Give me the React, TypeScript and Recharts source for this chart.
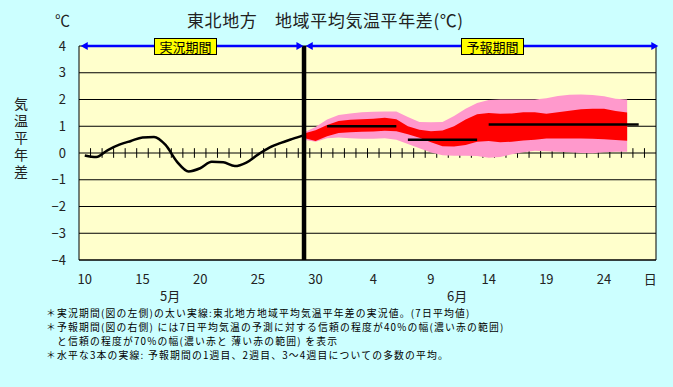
import React from "react";
import {
  ComposedChart,
  Area,
  Line,
  XAxis,
  YAxis,
  CartesianGrid,
  ReferenceLine,
} from "recharts";

const BG = "#ccffff";
const PLOT_BG = "#ffffcc";
const PINK = "#ff99cc";
const RED = "#ff0000";
const BLUE = "#0000ff";
const FONT = '"Noto Sans CJK JP", "Noto Sans", sans-serif';

// day index: 0 = 5/10 ... 49 = 6/28
const TICK_DAYS = [0, 5, 10, 15, 20, 25, 30, 35, 40, 45, 49];
const TICK_LABELS = ["10", "15", "20", "25", "30", "4", "9", "14", "19", "24", "日"];
const Y_TICKS = [-4, -3, -2, -1, 0, 1, 2, 3, 4];
const DAY_COUNT = 50;

// observed 7-day mean anomaly, 5/10 - 5/29
const OBS_VALUES = [
  -0.09, -0.15, 0.11, 0.31, 0.45, 0.58, 0.6, 0.3, -0.33, -0.69,
  -0.57, -0.33, -0.35, -0.49, -0.36, -0.06, 0.2, 0.38, 0.53, 0.67,
];

// forecast bands, 5/29 - 6/26
const FC_START = 19;
const PINK_HIGH = [
  0.78, 0.97, 1.25, 1.42, 1.48, 1.52, 1.54, 1.55, 1.55, 1.35,
  1.16, 1.15, 1.16, 1.38, 1.65, 1.87, 1.98, 2.0, 2.0, 2.0,
  2.0, 2.05, 2.13, 2.18, 2.19, 2.17, 2.12, 2.03, 2.0,
];
const RED_HIGH = [
  0.73, 0.85, 1.05, 1.2, 1.24, 1.26, 1.28, 1.32, 1.26, 1.0,
  0.87, 0.81, 0.84, 1.0, 1.25, 1.45, 1.5, 1.47, 1.48, 1.52,
  1.52, 1.47, 1.52, 1.58, 1.64, 1.65, 1.65, 1.57, 1.51,
];
const RED_LOW = [
  0.56, 0.45, 0.63, 0.75, 0.78, 0.79, 0.8, 0.83, 0.81, 0.7,
  0.57, 0.4, 0.25, 0.24, 0.3, 0.42, 0.45, 0.4, 0.42, 0.47,
  0.5, 0.54, 0.54, 0.54, 0.54, 0.53, 0.51, 0.49, 0.46,
];
const PINK_LOW = [
  0.5, 0.42, 0.55, 0.58, 0.55, 0.53, 0.53, 0.55, 0.5, 0.34,
  0.18, 0.02, -0.08, -0.1, -0.1, -0.11, -0.18, -0.15, -0.05, 0.03,
  0.08, 0.07, 0.05, 0.03, 0.0, -0.01, 0.03, 0.05, 0.05,
];

// ensemble mean: week 1, week 2, weeks 3-4
const WEEK_FROM = [21, 28, 35];
const WEEK_TO = [27, 34, 48];
const WEEK_MEAN = [1.0, 0.5, 1.07];

const SPLIT_DAY = 19;
const PERIOD_FROM = [-0.35, 19.15];
const PERIOD_TO = [18.95, 49.7];

const NOTES = [
  "＊実況期間(図の左側)の太い実線:東北地方地域平均気温平年差の実況値。(7日平均値)",
  "＊予報期間(図の右側) には7日平均気温の予測に対する信頼の程度が40%の幅(濃い赤の範囲)",
  "　と信頼の程度が70%の幅(濃い赤と 薄い赤の範囲) を表示",
  "＊水平な3本の実線: 予報期間の1週目、2週目、3～4週目についての多数の平均。",
];

const obsData = OBS_VALUES.map((v, i) => ({ x: i, v }));
const bandData = PINK_HIGH.map((_, i) => ({
  x: FC_START + i,
  pink: [PINK_LOW[i], PINK_HIGH[i]],
  red: [RED_LOW[i], RED_HIGH[i]],
}));
const boundaries = Array.from({ length: DAY_COUNT - 1 }, (_, i) => i + 0.5);

function Arrow(props: any) {
  const { x1, y1, x2, y2 } = props;
  const len = 7;
  const half = 4;
  return (
    <g>
      <line x1={x1 + 3} y1={y1} x2={x2 - 3} y2={y2} stroke={BLUE} strokeWidth={2.6} />
      <polygon points={`${x1},${y1} ${x1 + len},${y1 - half} ${x1 + len},${y1 + half}`} fill={BLUE} />
      <polygon points={`${x2},${y2} ${x2 - len},${y2 - half} ${x2 - len},${y2 + half}`} fill={BLUE} />
    </g>
  );
}

const boxStyle: React.CSSProperties = {
  position: "absolute",
  top: 38,
  width: 61,
  height: 15,
  background: "#ffff00",
  border: "1px solid #000",
  fontSize: 13,
  lineHeight: "15px",
  textAlign: "center",
  color: "#000",
};

export default function App() {
  return (
    <div
      style={{
        position: "absolute",
        left: 0,
        top: 0,
        width: 673,
        height: 387,
        background: BG,
        overflow: "hidden",
        fontFamily: FONT,
      }}
    >
      <ComposedChart
        width={673}
        height={387}
        margin={{ top: 46, right: 17, left: 39, bottom: 97 }}
      >
        <CartesianGrid vertical={false} stroke="#000" fill={PLOT_BG} fillOpacity={1} />
        <XAxis
          type="number"
          dataKey="x"
          domain={[-0.5, DAY_COUNT - 0.5]}
          ticks={TICK_DAYS}
          interval={0}
          allowDataOverflow
          height={30}
          axisLine={{ stroke: "#000" }}
          tickLine={false}
          tickSize={0}
          tickMargin={15}
          tickFormatter={(v: number) => TICK_LABELS[TICK_DAYS.indexOf(v)] ?? ""}
          tick={{ fontSize: 13, fill: "#222", fontFamily: FONT }}
        />
        <YAxis
          type="number"
          domain={[-4, 4]}
          ticks={Y_TICKS}
          interval={0}
          width={40}
          axisLine={{ stroke: "#000" }}
          tickLine={false}
          tickSize={0}
          tickMargin={13}
          tickFormatter={(v: number) => String(v).replace("-", "−")}
          tick={{ fontSize: 13, fill: "#222", fontFamily: FONT }}
        />
        {boundaries.map((b) => (
          <ReferenceLine
            key={b}
            segment={[{ x: b, y: -0.18 }, { x: b, y: 0.18 }]}
            stroke="#000"
            strokeWidth={1}
            zIndex={50}
          />
        ))}
        <Area
          data={bandData}
          dataKey="pink"
          type="linear"
          fill={PINK}
          fillOpacity={1}
          stroke="none"
          isAnimationActive={false}
          zIndex={100}
        />
        <Area
          data={bandData}
          dataKey="red"
          type="linear"
          fill={RED}
          fillOpacity={1}
          stroke="none"
          isAnimationActive={false}
          zIndex={101}
        />
        <Line
          data={obsData}
          dataKey="v"
          type="monotone"
          stroke="#000"
          strokeWidth={2.5}
          dot={false}
          isAnimationActive={false}
          zIndex={400}
        />
        {WEEK_MEAN.map((m, i) => (
          <Line
            key={i}
            data={[
              { x: WEEK_FROM[i], w: m },
              { x: WEEK_TO[i], w: m },
            ]}
            dataKey="w"
            type="linear"
            stroke="#000"
            strokeWidth={2.5}
            dot={false}
            isAnimationActive={false}
            zIndex={400}
          />
        ))}
        <ReferenceLine x={DAY_COUNT - 0.5} stroke="#000" strokeWidth={1} zIndex={450} />
        <ReferenceLine x={SPLIT_DAY} stroke="#000" strokeWidth={4.5} zIndex={450} />
        {PERIOD_FROM.map((f, i) => (
          <ReferenceLine
            key={"p" + i}
            segment={[{ x: f, y: 4 }, { x: PERIOD_TO[i], y: 4 }]}
            ifOverflow="visible"
            shape={Arrow}
            zIndex={460}
          />
        ))}
      </ComposedChart>

      <div
        style={{
          position: "absolute",
          left: 187,
          top: 9,
          fontSize: 17,
          letterSpacing: 0.6,
          lineHeight: "22px",
          color: "#222",
          whiteSpace: "pre",
        }}
      >
        東北地方　地域平均気温平年差(℃)
      </div>
      <div style={{ position: "absolute", left: 55, top: 11, fontSize: 15, lineHeight: "18px", color: "#222" }}>℃</div>
      <div
        style={{
          position: "absolute",
          left: 13,
          top: 97,
          fontSize: 14,
          lineHeight: "16px",
          letterSpacing: 2.8,
          writingMode: "vertical-rl",
          color: "#222",
        }}
      >
        気温平年差
      </div>
      <div style={{ ...boxStyle, left: 154 }}>実況期間</div>
      <div style={{ ...boxStyle, left: 461 }}>予報期間</div>
      <div style={{ position: "absolute", left: 160, top: 287, fontSize: 13, lineHeight: "18px", color: "#222" }}>5月</div>
      <div style={{ position: "absolute", left: 447, top: 287, fontSize: 13, lineHeight: "18px", color: "#222" }}>6月</div>
      <div
        style={{
          position: "absolute",
          left: 46,
          top: 306,
          fontSize: 9.8,
          letterSpacing: 1.2,
          lineHeight: "14px",
          color: "#000",
          whiteSpace: "pre",
        }}
      >
        {NOTES.map((n, i) => (
          <div key={i}>{n}</div>
        ))}
      </div>
    </div>
  );
}
